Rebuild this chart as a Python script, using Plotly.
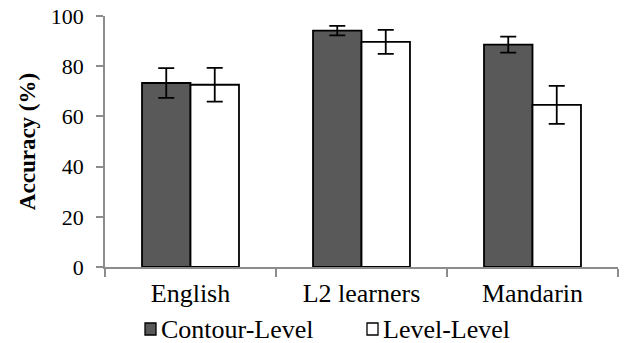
import plotly.graph_objects as go

# Accuracy by listener group and tone condition
groups = ["English", "L2 learners", "Mandarin"]
contour_level = [73.3, 94.2, 88.6]
contour_level_err = [5.9, 1.9, 3.2]
level_level = [72.6, 89.7, 64.6]
level_level_err = [6.7, 4.8, 7.6]
series_names = ["Contour-Level", "Level-Level"]
series_colors = ["#595959", "#ffffff"]
y_ticks = [0, 20, 40, 60, 80, 100]

W, H = 628, 343
ML, MR, MT, MB = 105, 10, 16, 76
PW, PH = W - ML - MR, H - MT - MB

FONT = "Times New Roman"
AXIS_GRAY = "#8c8c8c"


def px_x(px):
    return (px - ML) / PW


def px_y(py):
    return (H - MB - py) / PH


fig = go.Figure()
for name, vals, errs, col in [
    (series_names[0], contour_level, contour_level_err, series_colors[0]),
    (series_names[1], level_level, level_level_err, series_colors[1]),
]:
    fig.add_trace(go.Bar(
        x=groups, y=vals, name=name,
        marker=dict(color=col, line=dict(color="black", width=1.8)),
        error_y=dict(type="data", array=errs, visible=True,
                     color="black", thickness=1.8, width=8),
        showlegend=False,
    ))

# legend drawn as swatches + labels below the axis
legend_items = [(145, series_colors[0], series_names[0]),
                (367, series_colors[1], series_names[1])]
for x0, col, label in legend_items:
    fig.add_shape(type="rect", xref="paper", yref="paper",
                  x0=px_x(x0), x1=px_x(x0 + 11), y0=px_y(335), y1=px_y(323),
                  fillcolor=col, line=dict(color="black", width=1.3))
    fig.add_annotation(text=label, xref="paper", yref="paper",
                       x=px_x(x0 + 14), y=px_y(329), xanchor="left", yanchor="middle",
                       showarrow=False, font=dict(family=FONT, size=26, color="black"))

fig.update_layout(
    width=W, height=H,
    margin=dict(l=ML, r=MR, t=MT, b=MB, autoexpand=False),
    paper_bgcolor="white", plot_bgcolor="white",
    barmode="group", bargap=0.433, bargroupgap=0,
    font=dict(family=FONT, size=22, color="black"),
)
fig.update_xaxes(
    automargin=False,
    showline=True, linecolor=AXIS_GRAY, linewidth=1.5,
    ticks="outside", tickson="boundaries", ticklen=8, tickcolor=AXIS_GRAY, tickwidth=1.5,
    showgrid=False, tickfont=dict(family=FONT, size=26, color="black"),
    ticklabelstandoff=2,
)
fig.update_yaxes(
    automargin=False,
    range=[0, 100], tickvals=y_ticks, showline=True, linecolor=AXIS_GRAY, linewidth=1.5,
    ticks="outside", ticklen=7, tickcolor=AXIS_GRAY, tickwidth=1.5,
    showgrid=False, zeroline=False, tickfont=dict(family=FONT, size=22, color="black"),
    ticklabelstandoff=8,
    title=dict(text="<b>Accuracy (%)</b>", font=dict(family=FONT, size=23, color="black"),
               standoff=9),
)

fig.write_html("out.html")
